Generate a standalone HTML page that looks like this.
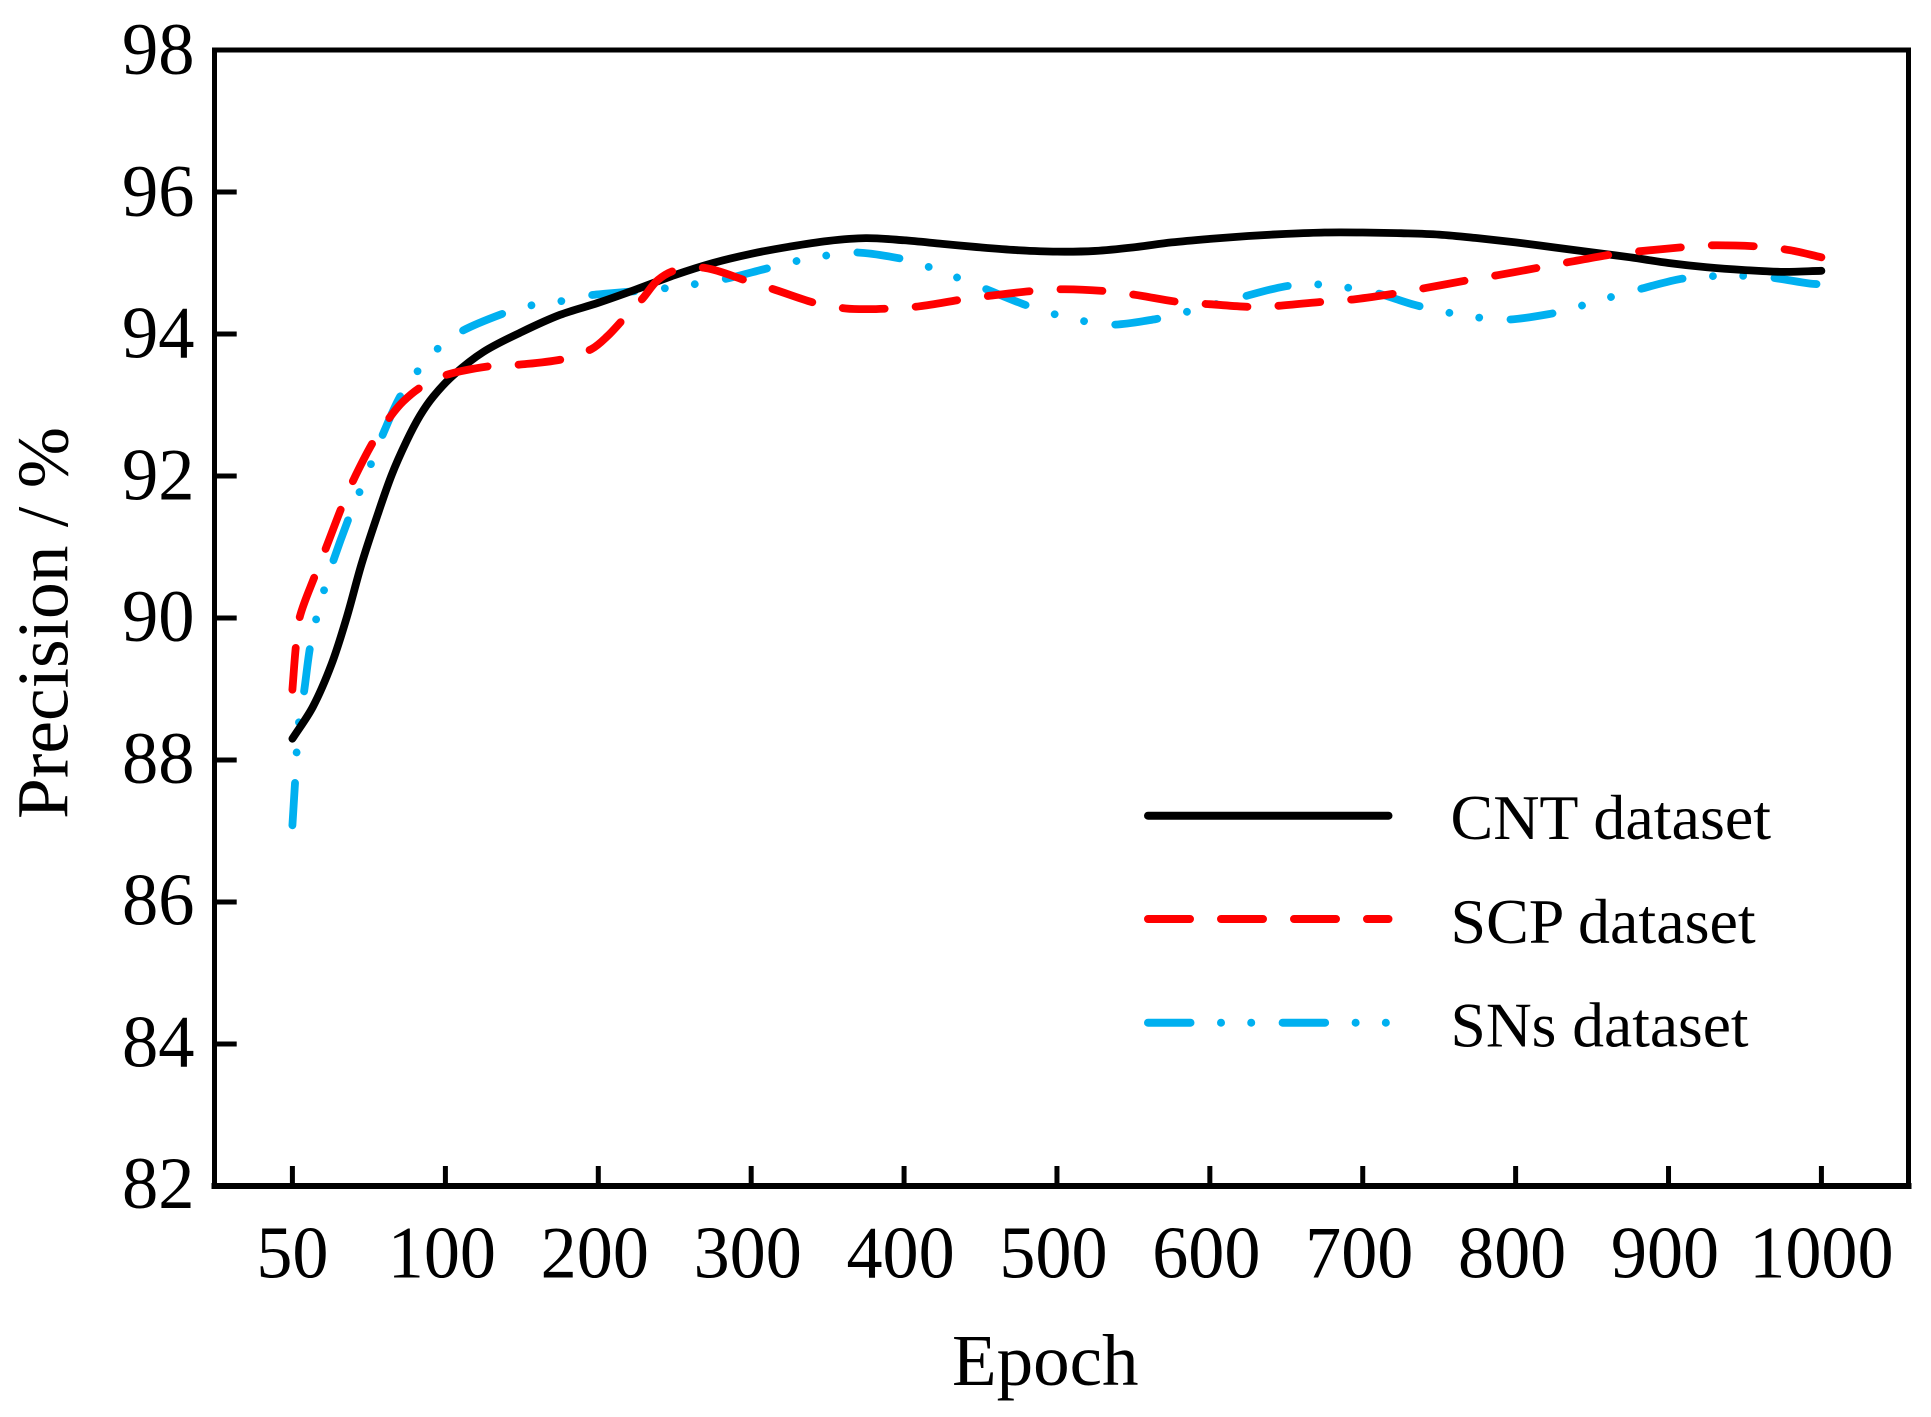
<!DOCTYPE html>
<html lang="en">
<head>
<meta charset="utf-8">
<title>Precision vs Epoch</title>
<style>
html,body{margin:0;padding:0;background:#fff;}
svg{display:block;}
text{font-family:"Liberation Serif","Times New Roman",serif;fill:#000;}
</style>
</head>
<body>
<svg id="chart" xmlns="http://www.w3.org/2000/svg" width="1931" height="1417" viewBox="0 0 1931 1417">
  <rect x="0" y="0" width="1931" height="1417" fill="#fff"/>
  <g id="series" fill="none" stroke-linecap="round" stroke-linejoin="round"></g>
  <g id="ticks"></g>
  <g id="frame" stroke="#000" stroke-linecap="square" shape-rendering="crispEdges">
    <line x1="214.5" y1="50" x2="214.5" y2="1186" stroke-width="5"/>
    <line x1="214.5" y1="50" x2="1908.5" y2="50" stroke-width="5"/>
    <line x1="1908.5" y1="50" x2="1908.5" y2="1186" stroke-width="5"/>
    <line x1="214.5" y1="1186" x2="1908.5" y2="1186" stroke-width="6"/>
  </g>
  <text x="952" y="1385" font-size="73">Epoch</text>
  <text transform="translate(67.7 819) rotate(-90)" font-size="73.5">Precision / %</text>
  <g id="legend">
    <g>
      <line x1="1148" y1="815.7" x2="1388.5" y2="815.7" stroke="#000" stroke-width="8" stroke-linecap="round"/>
      <text x="1450.5" y="839" font-size="64">CNT dataset</text>
    </g>
    <g>
      <line x1="1148" y1="919" x2="1388.5" y2="919" stroke="#ff0000" stroke-width="8" stroke-linecap="round" stroke-dasharray="42 31"/>
      <text x="1450.5" y="943" font-size="64">SCP dataset</text>
    </g>
    <g>
      <line x1="1148" y1="1022.7" x2="1388.5" y2="1022.7" stroke="#00b0f0" stroke-width="8" stroke-linecap="round" stroke-dasharray="42.5 30.5 0.01 30.2 0.01 31.4"/>
      <text x="1450.5" y="1046.7" font-size="63.5">SNs dataset</text>
    </g>
  </g>
</svg>
<script>
const xCategories = [50,100,200,300,400,500,600,700,800,900,1000];
const yTickValues = [82,84,86,88,90,92,94,96,98];

const cntEpochs = [50,56.7,62.8,67.7,72.6,77.5,82.4,87.3,91.7,96.05,105.2,125,150,175,200,225,250,275,300,325,350,375,400,425,450,475,500,525,550,575,600,625,650,675,700,725,750,775,800,825,850,875,900,925,950,975,1000];
const cntValues = [88.30,88.75,89.35,90.00,90.76,91.41,92.01,92.49,92.85,93.12,93.42,93.75,94.03,94.27,94.44,94.63,94.83,95.00,95.13,95.23,95.31,95.35,95.32,95.27,95.22,95.18,95.16,95.17,95.22,95.29,95.34,95.38,95.41,95.43,95.43,95.42,95.40,95.35,95.29,95.22,95.15,95.08,95.00,94.94,94.90,94.875,94.89];

const scpEpochs = [50,51.2,52.5,57.4,61,66.1,69.9,76.4,81.9,86.2,92.3,101.5,130,149,178,195.7,206,216,229,239,251,270,297,316,343,362,376.5,391,410,439,456.6,486,505,534,551.7,580,599.5,629,646.5,677,695,724,741.7,772,788.7,819,836.6,865.8,883.4,914,931.5,960.6,979.5,1000];
const scpValues = [88.99,89.63,90.03,90.60,90.99,91.56,91.94,92.48,92.83,93.05,93.26,93.43,93.55,93.57,93.65,93.79,93.97,94.20,94.50,94.76,94.90,94.93,94.75,94.62,94.43,94.36,94.35,94.36,94.39,94.49,94.54,94.61,94.63,94.60,94.55,94.45,94.42,94.38,94.40,94.46,94.49,94.58,94.65,94.77,94.83,94.95,95.02,95.13,95.17,95.23,95.25,95.23,95.18,95.08];

const snsEpochs = [50,50.9,51.4,52.2,53.8,55.7,57.8,60.4,63.4,68.1,71.9,75.6,79.4,85.2,90.8,97.4,110.7,136.8,155.4,175,193,201,222.7,242,262.5,282,309.7,328,347.7,367.6,396,414,433,451.6,478,496.6,515.6,535,564.6,582.7,621,649,668,687.7,707,734,754,773,792.7,821.7,840,859,877.5,906.7,925,945,965,992.7,1000];
const snsValues = [87.08,87.71,88.12,88.55,88.96,89.57,89.99,90.40,90.81,91.37,91.77,92.16,92.57,93.12,93.47,93.79,94.04,94.28,94.40,94.46,94.54,94.56,94.60,94.64,94.70,94.77,94.92,95.02,95.10,95.15,95.07,94.96,94.81,94.65,94.42,94.29,94.19,94.13,94.21,94.30,94.52,94.67,94.70,94.66,94.59,94.41,94.31,94.24,94.20,94.28,94.38,94.50,94.61,94.77,94.81,94.82,94.80,94.71,94.70];

const SVG_NS = 'http://www.w3.org/2000/svg';

function xScale(epoch){
  if (epoch <= 100) return 292.4 + (epoch - 50) * 3.06;
  return 445.4 + (epoch - 100) * 1.5289;
}
function yScale(value){
  return 50 + (98 - value) * 71;
}
function smoothPath(xs, ys){
  const pts = xs.map((e, i) => [xScale(e), yScale(ys[i])]);
  const tangents = pts.map((p, i) => {
    const a = pts[Math.max(i - 1, 0)];
    const b = pts[Math.min(i + 1, pts.length - 1)];
    const dx = b[0] - a[0], dy = b[1] - a[1];
    const len = Math.hypot(dx, dy) || 1;
    return [dx / len, dy / len];
  });
  let d = 'M' + pts[0][0].toFixed(2) + ' ' + pts[0][1].toFixed(2);
  for (let i = 0; i < pts.length - 1; i++) {
    const p = pts[i], q = pts[i + 1];
    const seg = Math.hypot(q[0] - p[0], q[1] - p[1]) / 3;
    d += 'C' + (p[0] + tangents[i][0] * seg).toFixed(2) + ' ' + (p[1] + tangents[i][1] * seg).toFixed(2) +
         ' ' + (q[0] - tangents[i + 1][0] * seg).toFixed(2) + ' ' + (q[1] - tangents[i + 1][1] * seg).toFixed(2) +
         ' ' + q[0].toFixed(2) + ' ' + q[1].toFixed(2);
  }
  return d;
}

const seriesGroup = document.getElementById('series');

const snsLine = document.createElementNS(SVG_NS, 'path');
snsLine.setAttribute('d', smoothPath(snsEpochs, snsValues));
snsLine.setAttribute('stroke', '#00b0f0');
snsLine.setAttribute('stroke-width', '7.8');
snsLine.setAttribute('stroke-dasharray', '42.5 30.5 0.01 30.2 0.01 31.4');


seriesGroup.appendChild(snsLine);

const cntLine = document.createElementNS(SVG_NS, 'path');
cntLine.setAttribute('d', smoothPath(cntEpochs, cntValues));
cntLine.setAttribute('stroke', '#000');
cntLine.setAttribute('stroke-width', '7.8');


seriesGroup.appendChild(cntLine);

const scpLine = document.createElementNS(SVG_NS, 'path');
scpLine.setAttribute('d', smoothPath(scpEpochs, scpValues));
scpLine.setAttribute('stroke', '#ff0000');
scpLine.setAttribute('stroke-width', '7.8');
scpLine.setAttribute('stroke-dasharray', '42 31');


seriesGroup.appendChild(scpLine);

const ticksGroup = document.getElementById('ticks');

xCategories.forEach(function(cat){
  const tx = xScale(cat);
  const tick = document.createElementNS(SVG_NS, 'line');
  tick.setAttribute('x1', tx);
  tick.setAttribute('x2', tx);
  tick.setAttribute('y1', 1186);
  tick.setAttribute('y2', 1166);
  tick.setAttribute('stroke', '#000');
  tick.setAttribute('stroke-width', '5');
  
  
  ticksGroup.appendChild(tick);

  const labelShift = (cat >= 100 && cat < 1000) ? -3.5 : 0;
  const label = document.createElementNS(SVG_NS, 'text');
  label.setAttribute('transform', 'translate(' + (tx + labelShift) + ' 1277.5) scale(0.975 1)');
  label.setAttribute('font-size', '74');
  label.setAttribute('text-anchor', 'middle');
  
  
  label.textContent = String(cat);
  ticksGroup.appendChild(label);
});

yTickValues.forEach(function(val){
  const ty = yScale(val);
  if (val !== 82 && val !== 98) {
    const tick = document.createElementNS(SVG_NS, 'line');
    tick.setAttribute('x1', 214.5);
    tick.setAttribute('x2', 236.7);
    tick.setAttribute('y1', ty);
    tick.setAttribute('y2', ty);
    tick.setAttribute('stroke', '#000');
    tick.setAttribute('stroke-width', '5');
    
    
    ticksGroup.appendChild(tick);
  }
  const label = document.createElementNS(SVG_NS, 'text');
  label.setAttribute('transform', 'translate(194.5 ' + (ty + 24 - (98 - val) * 0.12) + ') scale(0.98 1)');
  label.setAttribute('font-size', '74');
  label.setAttribute('text-anchor', 'end');
  
  
  label.textContent = String(val);
  ticksGroup.appendChild(label);
});
</script>
</body>
</html>
